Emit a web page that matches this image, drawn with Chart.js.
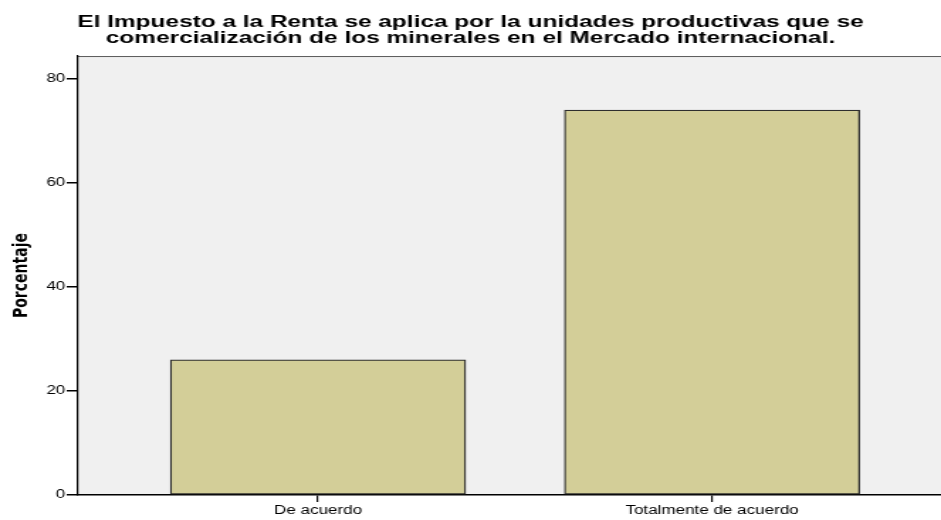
<!DOCTYPE html>
<html>
<head>
<meta charset="utf-8">
<script src="https://cdn.jsdelivr.net/npm/chart.js@4/dist/chart.umd.min.js"></script>
<style>
    html, body { margin: 0; padding: 0; background: #fff; overflow: hidden; }
    /* the original export is stretched sideways, so draw narrow and widen */
    #wrap { width: 663px; height: 520px; transform: scaleX(1.4193); transform-origin: 0 0; }
</style>
</head>
<body>
<div id="wrap"><canvas id="chart"></canvas></div>
<script>
const titleLines = [
    'El Impuesto a la Renta se aplica por la unidades productivas que se',
    'comercialización de los minerales en el Mercado internacional.',
];
const categories = ['De acuerdo', 'Totalmente de acuerdo'];
const percentages = [26, 74];
const yTicks = [0, 20, 40, 60, 80];

const plotFrame = {
    id: 'plotFrame',
    beforeDraw(chart) {
        const { ctx, chartArea } = chart;
        ctx.save();
        ctx.fillStyle = '#f0f0f0';
        ctx.fillRect(chartArea.left, chartArea.top, chartArea.right - chartArea.left, chartArea.bottom - chartArea.top);
        ctx.strokeStyle = '#5a5a5a';
        ctx.lineWidth = 1;
        ctx.beginPath();
        ctx.moveTo(chartArea.left, chartArea.top + 0.5);
        ctx.lineTo(chartArea.right, chartArea.top + 0.5);
        ctx.stroke();
        ctx.restore();
    },
};

new Chart(document.getElementById('chart'), {
    type: 'bar',
    data: {
        datasets: [
            {
                data: categories.map((name, i) => ({ x: i, y: percentages[i] })),
                backgroundColor: '#d3ce98',
                borderColor: '#2e2e2e',
                borderWidth: 1.3,
                borderSkipped: false,
                barThickness: 208,
            },
        ],
    },
    options: {
        responsive: true,
        maintainAspectRatio: false,
        animation: false,
        layout: { padding: 0 },
        plugins: {
            legend: { display: false },
            tooltip: { enabled: false },
            title: {
                display: true,
                text: titleLines,
                color: '#000',
                font: { family: 'Liberation Sans', size: 17.2, weight: 'bold', lineHeight: 0.94 },
                padding: { top: 14, bottom: 9.7 },
            },
        },
        scales: {
            x: {
                type: 'linear',
                offset: false,
                min: -0.609,
                max: 1.581,
                afterBuildTicks: (scale) => {
                    scale.ticks = categories.map((name, i) => ({ value: i }));
                },
                afterFit: (scale) => {
                    scale.height = 25;
                },
                ticks: {
                    color: '#000',
                    font: { family: 'Liberation Sans', size: 12 },
                    padding: 1,
                    maxRotation: 0,
                    callback: (value) => categories[value],
                },
                grid: {
                    offset: false,
                    drawOnChartArea: false,
                    tickLength: 7,
                    color: '#000',
                    lineWidth: 1.2,
                },
                border: { color: '#000', width: 1.5 },
            },
            y: {
                min: 0,
                max: 84.4,
                afterBuildTicks: (scale) => {
                    scale.ticks = yTicks.map((v) => ({ value: v }));
                },
                afterFit: (scale) => {
                    scale.width = 55;
                },
                ticks: {
                    color: '#000',
                    font: { family: 'Liberation Sans', size: 12 },
                    padding: 1,
                },
                grid: {
                    drawOnChartArea: false,
                    tickLength: 8,
                    color: '#000',
                    lineWidth: 1.5,
                },
                border: { color: '#000', width: 1.2 },
                title: {
                    display: true,
                    text: 'Porcentaje',
                    color: '#000',
                    font: { family: 'DejaVu Sans', size: 14, weight: 'bold' },
                    padding: { top: 7, bottom: 0 },
                },
            },
        },
    },
    plugins: [plotFrame],
});
</script>
</body>
</html>
